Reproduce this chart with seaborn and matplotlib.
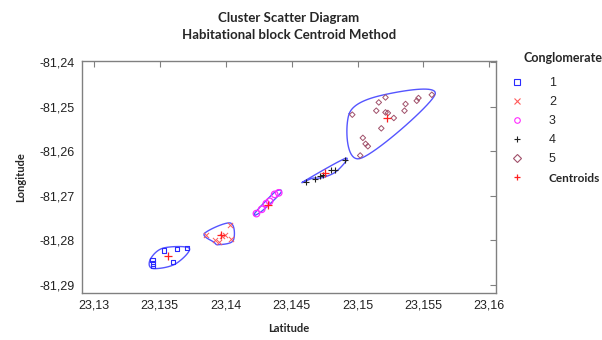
import numpy as np
import matplotlib
matplotlib.use("Agg")
import matplotlib.pyplot as plt
from matplotlib.lines import Line2D
import seaborn as sns

sns.set_style("white")
plt.rcParams['font.family'] = ['Liberation Sans', 'DejaVu Sans']

# cluster points (latitude, longitude)
lat_1 = [23.13445, 23.1345, 23.1345, 23.13533, 23.13631, 23.13707, 23.13601]
lon_1 = [-81.2844, -81.2852, -81.2858, -81.2823, -81.2820, -81.2817, -81.2849]

lat_2 = [23.13854, 23.13917, 23.13947, 23.1397, 23.1403, 23.14043, 23.13992]
lon_2 = [-81.27877, -81.27996, -81.2804, -81.27906, -81.27667, -81.27967, -81.27884]

lat_3 = [23.14233, 23.14273, 23.14308, 23.14333, 23.14371, 23.14402]
lon_3 = [-81.2740, -81.27304, -81.27176, -81.27125, -81.26969, -81.26935]

lat_4 = [23.14606, 23.14674, 23.14712, 23.14737, 23.14801, 23.14826, 23.14902]
lon_4 = [-81.26694, -81.26618, -81.26567, -81.26545, -81.26417, -81.26433, -81.2621]

lat_5 = [23.1496, 23.15020, 23.15040, 23.15061, 23.15078, 23.15142, 23.15161, 23.15180,
         23.15212, 23.15212, 23.15230, 23.15275, 23.15356, 23.15364, 23.15449, 23.15462, 23.15563]
lon_5 = [-81.25183, -81.26098, -81.25703, -81.25837, -81.25891, -81.25094, -81.24908, -81.25489,
         -81.24797, -81.25132, -81.25145, -81.25257, -81.25094, -81.24944, -81.24871, -81.2481, -81.24737]

centroid_lat = [23.13563, 23.13967, 23.1432, 23.1475, 23.15222]
centroid_lon = [-81.2835, -81.27877, -81.27214, -81.26493, -81.25257]

cluster_names = ["1", "2", "3", "4", "5"]
x_ticks = [23.13, 23.135, 23.14, 23.145, 23.15, 23.155, 23.16]
y_ticks = [-81.24, -81.25, -81.26, -81.27, -81.28, -81.29]

lats = [lat_1, lat_2, lat_3, lat_4, lat_5]
lons = [lon_1, lon_2, lon_3, lon_4, lon_5]
styles = [
    dict(marker="s", s=10, facecolor="none", edgecolor="#2a2aff", linewidth=0.8),
    dict(marker="x", s=14, color="#ff5a5a", linewidth=0.7),
    dict(marker="o", s=22, facecolor="none", edgecolor="#ff2bff", linewidth=0.9),
    dict(marker="+", s=16, color="#202020", linewidth=0.8),
    dict(marker="D", s=8, facecolor="none", edgecolor="#a0506a", linewidth=0.7),
]
ring_color = "#5555ff"


def hull(pts):
    pts = sorted(set(map(tuple, pts)))
    def cross(o, a, b):
        return (a[0]-o[0])*(b[1]-o[1]) - (a[1]-o[1])*(b[0]-o[0])
    lower, upper = [], []
    for p in pts:
        while len(lower) >= 2 and cross(lower[-2], lower[-1], p) <= 0:
            lower.pop()
        lower.append(p)
    for p in reversed(pts):
        while len(upper) >= 2 and cross(upper[-2], upper[-1], p) <= 0:
            upper.pop()
        upper.append(p)
    return np.array(lower[:-1] + upper[:-1])


def smooth_loop(v, n=20):
    # closed Catmull-Rom curve through the hull corners
    out = []
    k = len(v)
    for i in range(k):
        p0, p1, p2, p3 = v[i-1], v[i], v[(i+1) % k], v[(i+2) % k]
        for t in np.linspace(0, 1, n, endpoint=False):
            t2, t3 = t*t, t*t*t
            out.append(0.5*((2*p1) + (-p0+p2)*t + (2*p0-5*p1+4*p2-p3)*t2 + (-p0+3*p1-3*p2+p3)*t3))
    out.append(out[0])
    return np.array(out)


fig = plt.figure(figsize=(6.02, 3.40), dpi=100)
ax = fig.add_axes([82/602, 1-293/340, (496-82)/602, (293-61)/340])
ax.set_xlim(23.1291, 23.1605)
ax.set_ylim(-81.2918, -81.2398)

for la, lo, st in zip(lats, lons, styles):
    sns.scatterplot(x=la, y=lo, ax=ax, zorder=3, **st)
    # outline through the outer points, pushed out a few pixels
    pix = ax.transData.transform(np.column_stack([la, lo]))
    mu = pix.mean(axis=0)
    v = hull(pix)
    d = v - mu
    u = d / np.linalg.norm(d, axis=1)[:, None]
    axis_dir = np.linalg.eigh(np.cov(pix.T))[1][:, 1]
    perp = np.array([-axis_dir[1], axis_dir[0]])
    side = np.sign(d @ perp)[:, None]
    v = mu + d*1.03 + u*1.2 + side*perp*1.3
    loop = ax.transData.inverted().transform(smooth_loop(v))
    ax.plot(loop[:, 0], loop[:, 1], color=ring_color, linewidth=1.0, zorder=2)

sns.scatterplot(x=centroid_lat, y=centroid_lon, ax=ax, marker="+", s=30,
                color="#ff2020", linewidth=0.9, zorder=4)

ax.set_xticks(x_ticks)
ax.set_yticks(y_ticks)
ax.set_xticklabels([f"{v:g}".replace(".", ",") for v in x_ticks])
ax.set_yticklabels([f"{v:g}".replace(".", ",") for v in y_ticks])
ax.tick_params(direction="in", length=4, width=0.8, color="#808080",
               top=True, right=True, labelsize=9, labelcolor="#222222", pad=5)
for sp in ax.spines.values():
    sp.set_color("#808080")
    sp.set_linewidth(1.0)

bold = dict(family=["Lato", "DejaVu Sans"], fontweight="bold")
ax.set_xlabel("Latitude", fontsize=8, labelpad=8, **bold)
ax.set_ylabel("Longitude", fontsize=8, labelpad=10, **bold)
fig.text(289/602, 1-18/340, "Cluster Scatter Diagram", ha="center", va="center", fontsize=9.5, **bold)
fig.text(289/602, 1-35/340, "Habitational block Centroid Method", ha="center", va="center", fontsize=9.5, **bold)
fig.text(523/602, 1-58/340, "Conglomerate", ha="left", va="center", fontsize=9, **bold)

handles = []
for st in styles:
    handles.append(Line2D([], [], linestyle="none", marker=st["marker"], markersize=4,
                          markerfacecolor="none",
                          markeredgecolor=st.get("edgecolor", st.get("color")),
                          markeredgewidth=0.8))
handles.append(Line2D([], [], linestyle="none", marker="+", markersize=5,
                      markeredgecolor="#ff2020", markeredgewidth=0.9))
leg = fig.legend(handles, cluster_names + ["Centroids"],
                 loc="upper left", bbox_to_anchor=(512/602, 1-77/340), frameon=False,
                 fontsize=9, handlelength=0.8, handletextpad=2.15, labelspacing=0.57,
                 borderaxespad=0, borderpad=0)
t = leg.get_texts()[-1]
t.set_fontfamily(["Lato", "DejaVu Sans"])
t.set_fontweight("bold")
t.set_fontsize(8.5)

fig.savefig("out.png", dpi=100)
